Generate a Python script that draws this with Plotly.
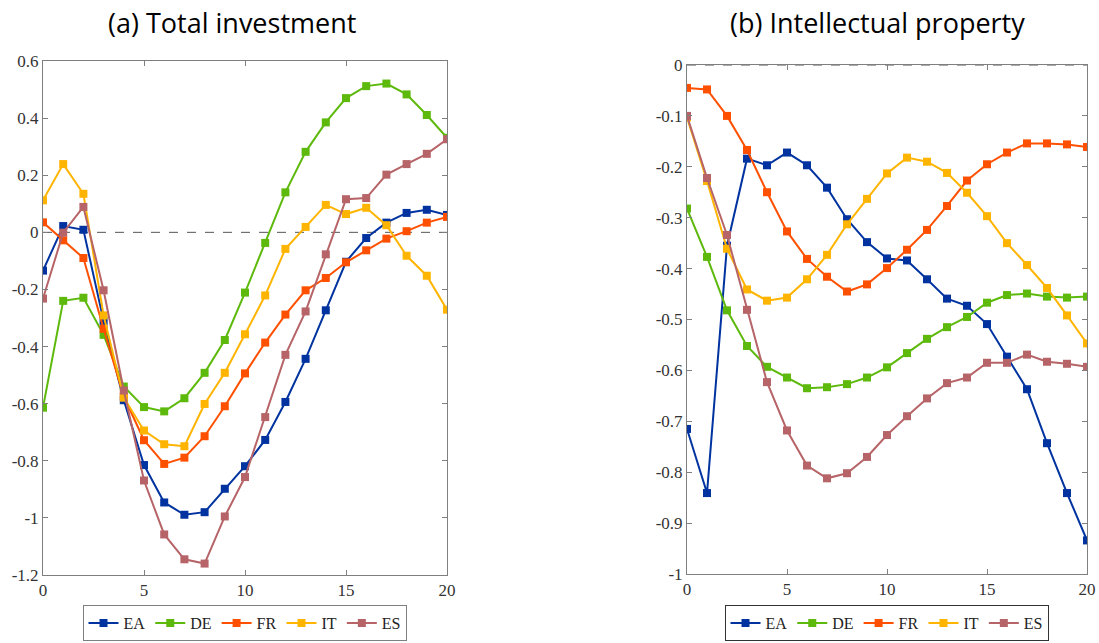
import plotly.graph_objects as go

horizon = list(range(21))
countries = ["EA", "DE", "FR", "IT", "ES"]
colors = {"EA": "#0033A0", "DE": "#5DB90B", "FR": "#FF5000", "IT": "#FFB400", "ES": "#B66467"}

total_inv = {
    "EA": [-0.134, 0.022, 0.009, -0.31, -0.588, -0.815, -0.946, -0.989, -0.980, -0.898, -0.819,
           -0.727, -0.594, -0.443, -0.273, -0.103, -0.020, 0.034, 0.068, 0.079, 0.061],
    "DE": [-0.614, -0.240, -0.229, -0.359, -0.540, -0.612, -0.627, -0.581, -0.492, -0.377, -0.211,
           -0.037, 0.140, 0.282, 0.385, 0.470, 0.512, 0.521, 0.483, 0.411, 0.331],
    "FR": [0.035, -0.028, -0.090, -0.338, -0.575, -0.728, -0.811, -0.789, -0.714, -0.609, -0.494,
           -0.386, -0.288, -0.203, -0.160, -0.105, -0.063, -0.022, 0.004, 0.034, 0.054],
    "IT": [0.112, 0.239, 0.135, -0.291, -0.579, -0.694, -0.742, -0.749, -0.601, -0.492, -0.357,
           -0.221, -0.058, 0.019, 0.096, 0.064, 0.086, 0.025, -0.082, -0.152, -0.271],
    "ES": [-0.232, -0.001, 0.089, -0.203, -0.554, -0.869, -1.058, -1.145, -1.160, -0.995, -0.857,
           -0.647, -0.429, -0.277, -0.077, 0.116, 0.120, 0.202, 0.239, 0.275, 0.326],
}

intell_prop = {
    "EA": [-0.715, -0.841, -0.355, -0.184, -0.197, -0.172, -0.197, -0.241, -0.303, -0.348, -0.380,
           -0.384, -0.421, -0.459, -0.473, -0.509, -0.573, -0.637, -0.743, -0.841, -0.934],
    "DE": [-0.282, -0.377, -0.482, -0.552, -0.593, -0.614, -0.635, -0.633, -0.627, -0.614, -0.594,
           -0.566, -0.538, -0.515, -0.495, -0.467, -0.452, -0.449, -0.455, -0.457, -0.455],
    "FR": [-0.045, -0.048, -0.100, -0.167, -0.250, -0.327, -0.381, -0.416, -0.445, -0.431, -0.399,
           -0.363, -0.324, -0.277, -0.227, -0.195, -0.172, -0.154, -0.154, -0.156, -0.161],
    "IT": [-0.103, -0.228, -0.361, -0.441, -0.463, -0.457, -0.421, -0.373, -0.313, -0.263, -0.213,
           -0.182, -0.190, -0.212, -0.251, -0.297, -0.350, -0.393, -0.438, -0.492, -0.547],
    "ES": [-0.100, -0.222, -0.334, -0.481, -0.623, -0.718, -0.787, -0.812, -0.802, -0.770, -0.727,
           -0.690, -0.655, -0.625, -0.614, -0.585, -0.585, -0.569, -0.583, -0.587, -0.593],
}

titles = ["(a) Total investment", "(b) Intellectual property"]
x_ticks = [0, 5, 10, 15, 20]
y1_ticks = [0.6, 0.4, 0.2, 0, -0.2, -0.4, -0.6, -0.8, -1, -1.2]
y1_labels = ["0.6", "0.4", "0.2", "0", "-0.2", "-0.4", "-0.6", "-0.8", "-1", "-1.2"]
y2_ticks = [0, -0.1, -0.2, -0.3, -0.4, -0.5, -0.6, -0.7, -0.8, -0.9, -1]
y2_labels = ["0", "-0.1", "-0.2", "-0.3", "-0.4", "-0.5", "-0.6", "-0.7", "-0.8", "-0.9", "-1"]

W, H = 1099, 643
tick_font = dict(family="Liberation Serif", size=17, color="#333333")
legend_font = dict(family="Liberation Serif", size=16, color="#222222")

fig = go.Figure()
for c in countries:
    fig.add_trace(go.Scatter(x=horizon, y=total_inv[c], name=c, mode="lines+markers",
                             line=dict(color=colors[c], width=2),
                             marker=dict(symbol="square", size=8, color=colors[c]),
                             xaxis="x", yaxis="y", legend="legend"))
for c in countries:
    fig.add_trace(go.Scatter(x=horizon, y=intell_prop[c], name=c, mode="lines+markers",
                             line=dict(color=colors[c], width=2),
                             marker=dict(symbol="square", size=8, color=colors[c]),
                             xaxis="x2", yaxis="y2", legend="legend2"))

axis_common = dict(showgrid=False, zeroline=False, showline=True, linecolor="#7f7f7f",
                   linewidth=1, mirror="ticks", ticks="inside", ticklen=5,
                   tickcolor="#7f7f7f", tickfont=tick_font, automargin=False)

fig.update_layout(
    width=W, height=H,
    margin=dict(l=0, r=0, t=0, b=0, autoexpand=False),
    paper_bgcolor="white", plot_bgcolor="white",
    xaxis=dict(domain=[43 / W, 447 / W], range=[0, 20], tickvals=x_ticks, anchor="y", **axis_common),
    yaxis=dict(domain=[(H - 575) / H, (H - 61) / H], range=[-1.2, 0.6], tickvals=y1_ticks,
               ticktext=y1_labels, anchor="x", **axis_common),
    xaxis2=dict(domain=[687 / W, 1087 / W], range=[0, 20], tickvals=x_ticks, anchor="y2", **axis_common),
    yaxis2=dict(domain=[(H - 574) / H, (H - 65) / H], range=[-1, 0], tickvals=y2_ticks,
                ticktext=y2_labels, anchor="x2", **axis_common),
    legend=dict(orientation="h", x=244.5 / W, xanchor="center", y=2 / H, yanchor="bottom",
                bordercolor="#7f7f7f", borderwidth=1, bgcolor="white",
                font=legend_font, itemwidth=30, tracegroupgap=0),
    legend2=dict(orientation="h", x=886.5 / W, xanchor="center", y=2 / H, yanchor="bottom",
                 bordercolor="#333333", borderwidth=1, bgcolor="white",
                 font=legend_font, itemwidth=30, tracegroupgap=0),
    showlegend=True,
)

for xr, yr in [("x", "y"), ("x2", "y2")]:
    fig.add_shape(type="line", xref=xr, yref=yr, x0=0, x1=20, y0=0, y1=0,
                  line=dict(color="#555555", width=1, dash="dash"), layer="below")

for t, xc in zip(titles, [231.5, 877]):
    fig.add_annotation(text=t, x=xc / W, y=1 - 22 / H, xref="paper", yref="paper",
                       showarrow=False, xanchor="center", yanchor="middle",
                       font=dict(family="Open Sans", size=27, color="black"))

fig.write_html("out.html")
